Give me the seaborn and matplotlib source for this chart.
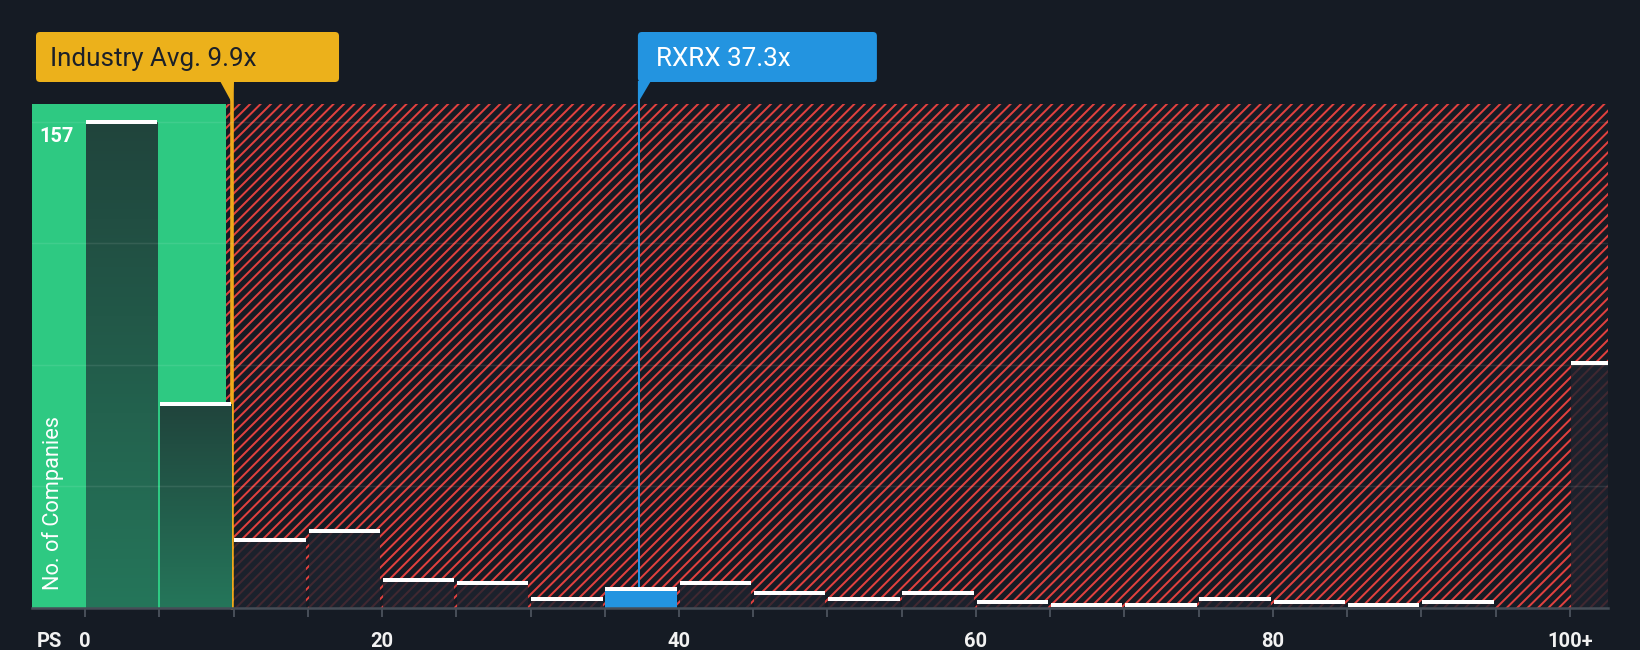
import numpy as np
import pandas as pd
import matplotlib
matplotlib.use("Agg")
import matplotlib.pyplot as plt
import seaborn as sns
from matplotlib.patches import FancyBboxPatch, Polygon, Rectangle
from matplotlib.colors import LinearSegmentedColormap
from matplotlib.transforms import IdentityTransform

# ---------------- data ----------------
bin_starts = [0, 5, 10, 15, 20, 25, 30, 35, 40, 45, 50, 55, 60, 65, 70, 75, 80, 85, 90, 95, 100]
company_counts = [157, 66, 22, 25, 9, 8, 3, 6, 8, 5, 3, 5, 2, 1, 1, 3, 2, 1, 2, 0, 79]
tick_values = [0, 20, 40, 60, 80, 100]
tick_labels = ["0", "20", "40", "60", "80", "100+"]
industry_avg = 9.9
industry_label = "Industry Avg. 9.9x"
company_value = 37.3
company_label = "RXRX 37.3x"
x_axis_label = "PS"
y_axis_label = "No. of Companies"

# ---------------- style ----------------
W, H, DPI = 1640, 650, 125
PT = 72.0 / DPI  # points per pixel
BG = "#151b24"
GREEN = "#2ec982"
GREEN_BAR_TOP = "#20443c"
GREEN_BAR_BOTTOM = "#25765a"
RED = "#e0413f"
DARK_BAR = "#1d232e"
BLUE = "#2394e0"
GOLD = "#ecb11b"
ORANGE = "#eea91a"
AXIS = "#464d57"
TEXT = "#f2f2f2"
BIN = 5
XMIN, XMAX = -3.57, 102.56
YMAX = 162.8

sns.set_style("dark")
plt.rcParams["font.family"] = ["Roboto", "DejaVu Sans"]
plt.rcParams["hatch.linewidth"] = 1.15

fig = plt.figure(figsize=(W / DPI, H / DPI), dpi=DPI, facecolor=BG)
AX_L, AX_R, AX_B, AX_T = 32, 1608, 42, 546
ax = fig.add_axes([AX_L / W, AX_B / H, (AX_R - AX_L) / W, (AX_T - AX_B) / H])
ax.set_facecolor(BG)

df = pd.DataFrame({"start": bin_starts, "count": company_counts})
df["center"] = df["start"] + BIN * 0.49
sns.barplot(data=df, x="center", y="count", native_scale=True, width=0.96,
            color=DARK_BAR, errorbar=None, ax=ax, zorder=3, linewidth=0)
bars = list(ax.patches)

# zones
zone_split = industry_avg - 0.4
ax.axvspan(XMIN, zone_split, color=GREEN, zorder=0, lw=0)
ax.add_patch(Rectangle((zone_split, 0), XMAX - zone_split, YMAX, facecolor=BG,
                       edgecolor=RED, hatch="////", lw=0, zorder=0.5))

# bars styling
green_cmap = LinearSegmentedColormap.from_list("g", [GREEN_BAR_BOTTOM, GREEN_BAR_TOP])
grad = np.linspace(0, 1, 256).reshape(-1, 1)
for p in bars:
    x0, w, h = p.get_x(), p.get_width(), p.get_height()
    if x0 + w <= industry_avg:
        p.set_facecolor("none")
        if h > 0:
            im = ax.imshow(grad, extent=[x0, x0 + w, 0, h], origin="lower", cmap=green_cmap,
                           aspect="auto", zorder=3, interpolation="bilinear")
            im.set_clip_path(p)
    elif x0 <= company_value < x0 + w:
        p.set_facecolor(BLUE)
        p.set_alpha(1)
    else:
        p.set_facecolor(DARK_BAR)
        p.set_alpha(0.82)
    if h > 0:
        ax.plot([x0, x0 + w], [h, h], color="white", lw=4.0 * PT, solid_capstyle="butt", zorder=4)

# gridlines
for v in np.linspace(0, max(company_counts), 5)[1:]:
    ax.axhline(v, color="white", alpha=0.09, lw=1.5 * PT, zorder=5)

ax.set_xlim(XMIN, XMAX)
ax.set_ylim(0, YMAX)
ax.grid(False)

# vertical marker lines (extend up to the callout boxes)
box_top, box_bot = H - 32, H - 82
ymax_frac = (box_bot - AX_B) / (AX_T - AX_B)
ax.axvline(industry_avg, ymin=0, ymax=ymax_frac, color=ORANGE, lw=3.6 * PT, zorder=2, clip_on=False)
ax.axvline(company_value, ymin=0, ymax=ymax_frac, color=BLUE, lw=2.0 * PT, zorder=2, clip_on=False)

# axes decoration
for s in ["top", "left", "right"]:
    ax.spines[s].set_visible(False)
ax.spines["bottom"].set_color(AXIS)
ax.spines["bottom"].set_linewidth(2.5 * PT)
ax.spines["bottom"].set_zorder(6)
ax.set_yticks([])
all_ticks = np.arange(0, 101, BIN)
ax.set_xticks(all_ticks)
lab_map = dict(zip(tick_values, tick_labels))
ax.set_xticklabels([lab_map.get(int(t), "") for t in all_ticks])
TICK_LEN = 9 * PT
TICK_PAD = 8.4
TICK_FS = 11.6
ax.tick_params(axis="x", length=TICK_LEN, width=2 * PT, color=AXIS, labelcolor=TEXT,
               labelsize=TICK_FS, pad=TICK_PAD, direction="out", bottom=True)
for t in ax.get_xticklabels():
    t.set_fontweight("bold")
ax.set_xlabel("")
ax.set_ylabel("")

ax.annotate(x_axis_label, xy=(0, 0), xycoords="axes fraction",
            xytext=(5 * PT, -(TICK_LEN + TICK_PAD)), textcoords="offset points",
            ha="left", va="top", fontsize=TICK_FS, fontweight="bold", color=TEXT)

ax.text(21 / (AX_R - AX_L), 105 / (AX_T - AX_B), y_axis_label, rotation=90,
        transform=ax.transAxes, ha="center", va="center", fontsize=12.5, color="white", zorder=6)

ax.annotate(str(max(company_counts)), xy=(0, max(company_counts)), xycoords=("axes fraction", "data"),
            xytext=(7 * PT, -15 * PT), textcoords="offset points", ha="left", va="center",
            fontsize=11.5, fontweight="bold", color="white", zorder=6)

# callout boxes (pixel space)
def px(x):
    return ax.transData.transform((x, 0))[0]

ia_x = px(industry_avg)
ind_left = AX_L + 4
fig.add_artist(FancyBboxPatch((ind_left, box_bot), ia_x + 107 - ind_left, box_top - box_bot,
                              boxstyle="round,pad=0,rounding_size=4", fc=GOLD, ec="none",
                              transform=IdentityTransform()))
fig.add_artist(Polygon([(ia_x - 12, box_bot + 1), (ia_x + 2, box_bot + 1), (ia_x, H - 103)],
                       closed=True, fc=GOLD, ec="none", transform=IdentityTransform()))
fig.text(ind_left + 14, H - 66, industry_label, transform=IdentityTransform(),
         ha="left", va="baseline", fontsize=15, color="#1b2029")

cv_x = px(company_value)
fig.add_artist(FancyBboxPatch((cv_x - 1, box_bot), 239, box_top - box_bot,
                              boxstyle="round,pad=0,rounding_size=4", fc=BLUE, ec="none",
                              transform=IdentityTransform()))
fig.add_artist(Polygon([(cv_x - 1, box_bot + 1), (cv_x + 12, box_bot + 1), (cv_x - 1, H - 103)],
                       closed=True, fc=BLUE, ec="none", transform=IdentityTransform()))
fig.text(cv_x + 17, H - 66, company_label, transform=IdentityTransform(),
         ha="left", va="baseline", fontsize=15, color="white")

fig.savefig("out.png", dpi=DPI, facecolor=BG)
